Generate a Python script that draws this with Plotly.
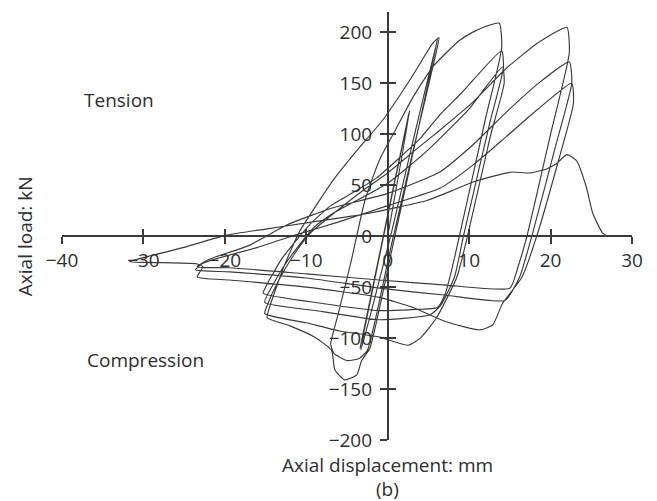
import plotly.graph_objects as go

# Cyclic axial test of a brace: load (kN) vs displacement (mm), listed branch by branch
elastic_disp = [0.0, 2.7, -3.4, 2.6, -3.3, 0.5]
elastic_load = [0, 123, -110, 121, -112, 5]

cycle6a_disp = [3.3, 6.1, 3.6, 0.5, -2.2, -3.2, -3.8, -5.3, -6.5, -6.9, -9.0, -12.0, -14.8]
cycle6a_load = [100, 193, 100, -14, -110, -122, -136, -141, -131, -112, -99, -88, -80]

reload_c_disp = [-14.6, -13.0, -11.8, -10.8, -8.8, -6.7, -3.8, -0.6, 2.7, 5.5, 6.3]
reload_c_load = [-72, -35, -12, 5, 30, 55, 84, 114, 153, 189, 195]

cycle6b_disp = [5.8, 3.0, 0.3, -2.5, -3.5, -5.0, -6.6, -7.0]
cycle6b_load = [175, 80, -14, -112, -120, -122, -115, -106]

reload_d_disp = [-6.2, -4.5, -2.8, -1.0, 1.0, 3.0, 5.5, 7.2, 8.8, 10.4, 12.1, 13.7]
reload_d_load = [-80, -25, 35, 75, 105, 135, 166, 180, 192, 200, 206, 209]

cycle14a_disp = [14.0, 12.0, 8.8, 7.8, 7.0, 6.1, 3.0, -1.0, -8.0, -15.3]
cycle14a_load = [185, 115, 0, -35, -58, -70, -72, -73, -66, -56]

reload_f_disp = [-15.0, -13.0, -11.0, -9.5, -7.0, -4.0, -1.4, 4.0, 6.4, 9.0, 14.0]
reload_f_load = [-50, -22, -2, 12, 30, 44, 57, 96, 119, 140, 182]

cycle14b_disp = [14.2, 12.5, 9.3, 8.2, 6.5, 5.2, -1.0, -8.0, -15.1]
cycle14b_load = [165, 110, 0, -40, -68, -77, -82, -74, -65]

reload_g_disp = [-14.8, -12.8, -10.8, -9.0, -6.8, 0.0, 5.0, 10.0, 14.1]
reload_g_load = [-58, -30, -8, 9, 22, 52, 85, 125, 166]

cycle14c_disp = [14.3, 12.6, 9.8, 8.5, 6.0, 4.0, 2.5, -1.0, -5.9, -10.0, -15.1]
cycle14c_load = [150, 98, 0, -40, -80, -100, -107, -99, -93, -85, -76]

reload_h1_disp = [-14.8, -13.5, -11.5, -9.5, -7.0, -3.0, 0.0, 3.0, 6.4, 10.4, 14.6, 18.5, 22.0]
reload_h1_load = [-68, -45, -18, 3, 20, 45, 62, 82, 104, 131, 165, 190, 205]

cycle22a_disp = [22.3, 20.0, 17.1, 16.0, 15.0, 7.2, -1.0, -10.0, -19.4, -23.4]
cycle22a_load = [180, 100, 0, -30, -51, -48, -43, -37, -31, -30]

reload_h2_disp = [-22.5, -21.0, -17.0, -12.4, -7.1, 0.0, 6.4, 10.5, 14.6, 18.5, 22.3]
reload_h2_load = [-25, -20, -9, 11, 27, 42, 63, 90, 122, 150, 171]

cycle22b_disp = [22.6, 20.5, 17.7, 16.2, 14.4, 7.2, -1.0, -10.0, -19.4, -23.6]
cycle22b_load = [150, 85, 0, -40, -63, -58, -51, -41, -35, -33]

reload_h3_disp = [-22.8, -21.0, -16.0, -11.0, -6.0, 0.0, 6.4, 10.5, 14.6, 18.5, 22.6]
reload_h3_load = [-27, -22, -11, 2, 14, 30, 47, 70, 98, 125, 150]

cycle22c_disp = [22.8, 21.0, 18.3, 16.5, 14.1, 12.9, 11.3, 7.2, 3.1, -1.0, -10.0, -19.4, -23.4]
cycle22c_load = [130, 75, 0, -40, -66, -87, -92, -84, -70, -60, -50, -43, -40]

final_comp_disp = [-22.7, -23.5, -27.5, -31.7]
final_comp_load = [-30, -27, -26, -25]

fracture_disp = [-29.0, -25.0, -19.8, -15.0, -10.0, -5.0, -2.6, 1.0, 4.8, 8.0, 10.4, 13.0,
                 15.3, 17.4, 19.5, 20.7, 22.0, 23.2, 24.4, 25.2, 26.4, 27.0]
fracture_load = [-19, -11, 1, 7, 13, 19, 22, 28, 35, 45, 53, 59,
                 63, 62, 66, 71, 80, 74, 48, 22, 3, 0]

branches = [
    (elastic_disp, elastic_load), (cycle6a_disp, cycle6a_load),
    (reload_c_disp, reload_c_load), (cycle6b_disp, cycle6b_load),
    (reload_d_disp, reload_d_load), (cycle14a_disp, cycle14a_load),
    (reload_f_disp, reload_f_load), (cycle14b_disp, cycle14b_load),
    (reload_g_disp, reload_g_load), (cycle14c_disp, cycle14c_load),
    (reload_h1_disp, reload_h1_load), (cycle22a_disp, cycle22a_load),
    (reload_h2_disp, reload_h2_load), (cycle22b_disp, cycle22b_load),
    (reload_h3_disp, reload_h3_load), (cycle22c_disp, cycle22c_load),
    (final_comp_disp, final_comp_load), (fracture_disp, fracture_load),
]

disp, load = [], []
for d, l in branches:
    disp += d
    load += l

x_ticks = [-40, -30, -20, -10, 0, 10, 20, 30]
y_ticks = [-200, -150, -100, -50, 0, 50, 100, 150, 200]
x_range = [-40, 30]
y_range = [-200, 220]

ink = "#3a3a3a"
txt = "#2e2e2e"
font_family = "Open Sans"
fs = 19

fig = go.Figure()
fig.add_trace(go.Scatter(
    x=disp, y=load, mode="lines",
    line=dict(color=ink, width=1.15, shape="spline", smoothing=0.5),
    showlegend=False, hoverinfo="skip",
))
# companion axes carry the inner half of each crossing tick
fig.add_trace(go.Scatter(x=[None], y=[None], xaxis="x2", yaxis="y2",
                         showlegend=False, hoverinfo="skip"))

x_pos = (0 - y_range[0]) / (y_range[1] - y_range[0])
y_pos = (0 - x_range[0]) / (x_range[1] - x_range[0])

common = dict(showgrid=False, zeroline=False, tickcolor=ink, tickwidth=1.6, ticklen=7)

fig.update_layout(
    width=657, height=501,
    margin=dict(l=62, r=25, t=12, b=61),
    paper_bgcolor="white", plot_bgcolor="white",
    font=dict(family=font_family, size=fs, color=txt),
    xaxis=dict(range=x_range, tickvals=x_ticks, showline=True, linecolor=ink, linewidth=1.6,
               ticks="outside", anchor="free", position=x_pos,
               tickfont=dict(size=fs, color=txt), **common),
    yaxis=dict(range=y_range, tickvals=y_ticks, showline=True, linecolor=ink, linewidth=1.6,
               ticks="outside", anchor="free", position=y_pos, ticklabelstandoff=4,
               tickfont=dict(size=fs, color=txt), **common),
    xaxis2=dict(range=x_range, tickvals=x_ticks, overlaying="x", showline=False,
                ticks="inside", showticklabels=False, anchor="free", position=x_pos, **common),
    yaxis2=dict(range=y_range, tickvals=y_ticks, overlaying="y", showline=False,
                ticks="inside", showticklabels=False, anchor="free", position=y_pos, **common),
    annotations=[
        dict(text="Tension", x=-33, y=134, xref="x", yref="y", showarrow=False,
             xanchor="center", yanchor="middle", font=dict(size=fs, color=txt)),
        dict(text="Compression", x=-29.8, y=-121.6, xref="x", yref="y", showarrow=False,
             xanchor="center", yanchor="middle", font=dict(size=fs, color=txt)),
        dict(text="Axial load: kN", x=-0.065, y=0, xref="paper", yref="y", textangle=-90,
             xanchor="center", yanchor="middle", showarrow=False, font=dict(size=fs, color=txt)),
        dict(text="Axial displacement: mm", x=0, y=-0.059, xref="x", yref="paper",
             xanchor="center", yanchor="middle", borderpad=0, showarrow=False,
             font=dict(size=fs, color=txt)),
        dict(text="(b)", x=0, y=-0.1145, xref="x", yref="paper",
             xanchor="center", yanchor="middle", borderpad=0, showarrow=False,
             font=dict(size=fs, color=txt)),
    ],
)

fig.write_html("out.html")
